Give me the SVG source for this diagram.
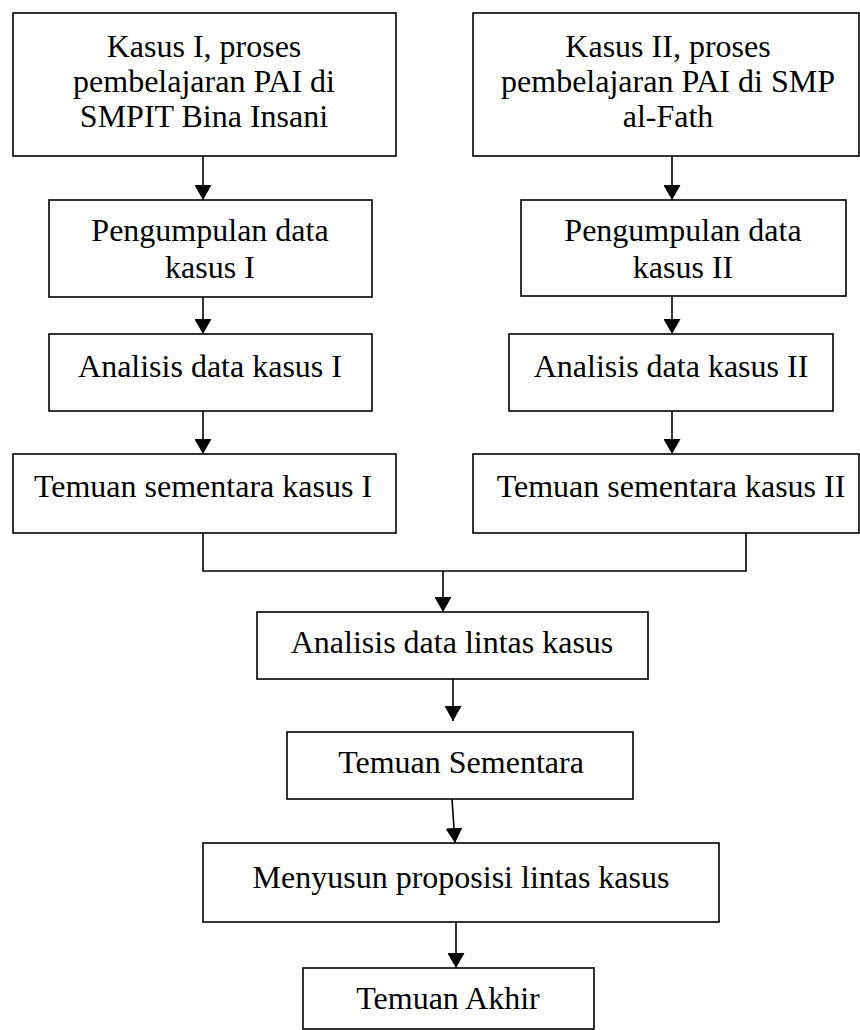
<svg xmlns="http://www.w3.org/2000/svg" width="860" height="1030" viewBox="0 0 860 1030">
<style>
.box{fill:#fff;stroke:#000;stroke-width:1.6}
.t{font-family:"Liberation Serif","Times New Roman",serif;font-size:32px;fill:#000;text-anchor:middle}
.c{fill:none;stroke:#000;stroke-width:1.6}
</style>
<defs>
<marker id="ah" markerUnits="userSpaceOnUse" viewBox="0 0 15 17" refX="15" refY="8.5" markerWidth="15" markerHeight="17" orient="auto">
<path d="M0,0 L15,8.5 L0,17 z" fill="#000"/>
</marker>
</defs>
<rect width="860" height="1030" fill="#fff"/>
<g id="connectors">
<line class="c" x1="203" y1="156" x2="203" y2="200" marker-end="url(#ah)"/>
<line class="c" x1="672" y1="156" x2="672" y2="200" marker-end="url(#ah)"/>
<line class="c" x1="203" y1="297" x2="203" y2="334" marker-end="url(#ah)"/>
<line class="c" x1="672" y1="296" x2="672" y2="334" marker-end="url(#ah)"/>
<line class="c" x1="203" y1="411" x2="203" y2="454" marker-end="url(#ah)"/>
<line class="c" x1="672" y1="411" x2="672" y2="454" marker-end="url(#ah)"/>
<polyline class="c" points="203,533 203,571 746,571 746,533"/>
<line class="c" x1="443" y1="571" x2="443" y2="612" marker-end="url(#ah)"/>
<line class="c" x1="453" y1="679" x2="453" y2="721" marker-end="url(#ah)"/>
<line class="c" x1="452" y1="799" x2="455" y2="843" marker-end="url(#ah)"/>
<line class="c" x1="456" y1="922" x2="456" y2="968" marker-end="url(#ah)"/>
</g>
<g id="n1"><rect class="box" x="13" y="13" width="383" height="143"/>
<text class="t" x="204" y="57">Kasus I, proses</text>
<text class="t" x="204" y="92">pembelajaran PAI di</text>
<text class="t" x="204" y="127">SMPIT Bina Insani</text></g>
<g id="n2"><rect class="box" x="473" y="13" width="386" height="143"/>
<text class="t" x="668" y="57">Kasus II, proses</text>
<text class="t" x="668" y="92">pembelajaran PAI di SMP</text>
<text class="t" x="668" y="127">al-Fath</text></g>
<g id="n3"><rect class="box" x="49" y="200" width="323" height="97"/>
<text class="t" x="210" y="241">Pengumpulan data</text>
<text class="t" x="210" y="278">kasus I</text></g>
<g id="n4"><rect class="box" x="521" y="200" width="325" height="96"/>
<text class="t" x="683" y="241">Pengumpulan data</text>
<text class="t" x="683" y="278">kasus II</text></g>
<g id="n5"><rect class="box" x="49" y="334" width="323" height="77"/>
<text class="t" x="210" y="377">Analisis data kasus I</text></g>
<g id="n6"><rect class="box" x="509" y="334" width="324" height="77"/>
<text class="t" x="671" y="377">Analisis data kasus II</text></g>
<g id="n7"><rect class="box" x="13" y="454" width="383" height="79"/>
<text class="t" x="203" y="497">Temuan sementara kasus I</text></g>
<g id="n8"><rect class="box" x="473" y="454" width="386" height="79"/>
<text class="t" x="671" y="497">Temuan sementara kasus II</text></g>
<g id="n9"><rect class="box" x="257" y="612" width="391" height="67"/>
<text class="t" x="452" y="653">Analisis data lintas kasus</text></g>
<g id="n10"><rect class="box" x="287" y="732" width="346" height="67"/>
<text class="t" x="461" y="773">Temuan Sementara</text></g>
<g id="n11"><rect class="box" x="203" y="843" width="516" height="79"/>
<text class="t" x="461" y="888">Menyusun proposisi lintas kasus</text></g>
<g id="n12"><rect class="box" x="303" y="968" width="291" height="61"/>
<text class="t" x="448" y="1009">Temuan Akhir</text></g>
</svg>
